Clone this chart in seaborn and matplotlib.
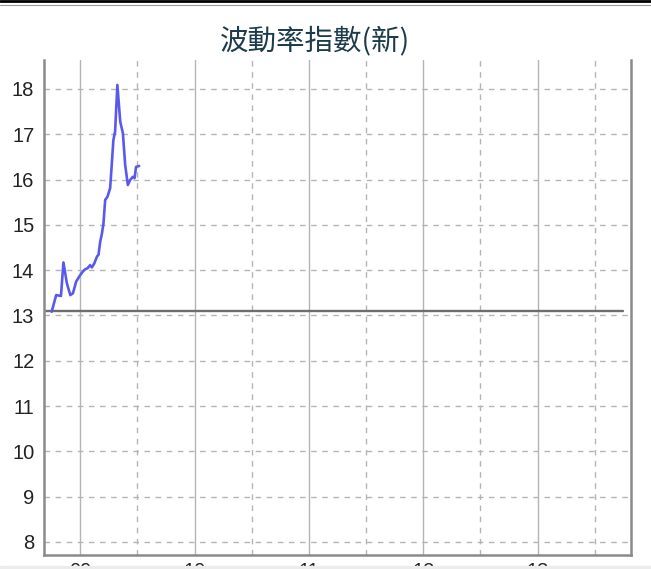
import numpy as np
import pandas as pd
import matplotlib
matplotlib.use("Agg")
import matplotlib.pyplot as plt
import seaborn as sns

# minutes since midnight (08:45 open) and index value
minutes = [525, 527.4, 528.6, 529.9, 531.2, 533.0, 534.8, 536.2, 537.9, 540,
           541.4, 542.6, 543.8, 545.2, 546.1, 547.3, 548.8, 549.6, 550.5, 551.4,
           552.2, 553.1, 554.3, 555.7, 556.6, 557.4, 558.3, 559.5, 561.0, 562.4,
           563.6, 565.0, 566.2, 567.6, 568.5, 569.3, 570.9]
values = [13.08, 13.45, 13.44, 13.43, 14.17, 13.71, 13.45, 13.49, 13.75, 13.89,
          13.97, 14.02, 14.04, 14.11, 14.06, 14.14, 14.30, 14.34, 14.63, 14.81,
          15.03, 15.55, 15.62, 15.81, 16.36, 16.87, 17.06, 18.09, 17.28, 17.02,
          16.32, 15.88, 15.99, 16.06, 16.03, 16.28, 16.30]
prev_close = 13.10
hour_ticks = [540, 600, 660, 720, 780]
hour_labels = ["09", "10", "11", "12", "13"]
half_ticks = [570, 630, 690, 750, 810]
y_ticks = [8, 9, 10, 11, 12, 13, 14, 15, 16, 17, 18]

df = pd.DataFrame({"minute": minutes, "vix": values})

sns.set_style("white")
plt.rcParams["font.family"] = ["Liberation Sans", "DejaVu Sans"]

fig = plt.figure(figsize=(6.51, 5.69), dpi=100)
ax = fig.add_axes([44 / 651, 1 - 555 / 569, (631 - 44) / 651, (555 - 60) / 569])

grid_c = "#b4b4b4"
for t in hour_ticks:
    ax.axvline(t, color=grid_c, lw=1.0, zorder=0)
for t in half_ticks:
    ax.axvline(t, color=grid_c, lw=1.0, ls=(0, (4, 4)), zorder=0)
for t in y_ticks:
    ax.axhline(t, color=grid_c, lw=1.0, ls=(0, (4, 4)), zorder=0)

ax.plot([521, 825], [prev_close, prev_close], color="#6e6e6e", lw=1.7, zorder=2)

sns.lineplot(data=df, x="minute", y="vix", ax=ax, color="#5959ee", lw=1.9,
             zorder=3, estimator=None)

ax.set_xlim(521, 829)
ax.set_ylim(7.71, 18.64)
ax.set_xticks(hour_ticks)
ax.set_xticklabels(hour_labels)
ax.set_yticks(y_ticks)
ax.tick_params(axis="both", length=0, labelsize=14.5, colors="#222222")
ax.tick_params(axis="y", pad=7)
ax.tick_params(axis="x", pad=5)
ax.set_xlabel("")
ax.set_ylabel("")

for s in ["left", "bottom", "right"]:
    ax.spines[s].set_color("#8a8a8a")
    ax.spines[s].set_linewidth(1.8)
ax.spines["top"].set_visible(False)

fig.text(315 / 651, 1 - 41 / 569, "波動率指數(新)", ha="center", va="center",
         fontsize=20.5, color="#1c3c4c", family=["Noto Sans CJK TC", "DejaVu Sans"])

# screenshot border bits
fig.add_artist(plt.Line2D([0, 1], [1 - 1 / 569, 1 - 1 / 569], color="black", lw=2))
fig.add_artist(plt.Line2D([0, 1], [1 - 5 / 569, 1 - 5 / 569], color="#9a9a9a", lw=0.8))
fig.add_artist(plt.Rectangle((0, 0), 1, 3 / 569, color="#ececec", zorder=10))

fig.savefig("out.png", dpi=100)
